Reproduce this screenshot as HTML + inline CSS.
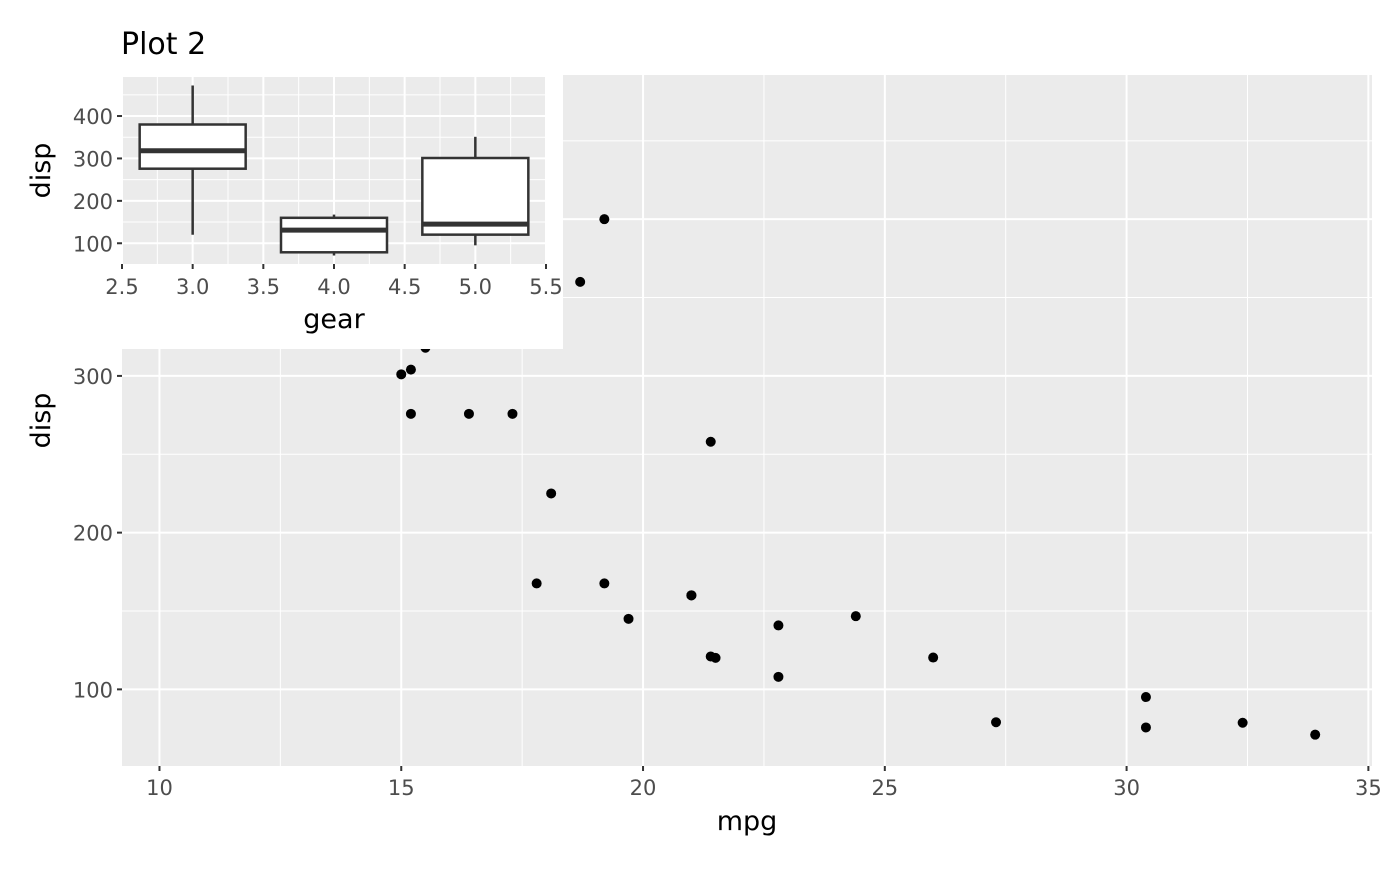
<!DOCTYPE html>
<html><head><meta charset="utf-8"><style>
html,body{margin:0;padding:0;background:#fff;}
svg text{font-family:"DejaVu Sans","Liberation Sans",sans-serif;}
</style></head><body>
<svg id="c" width="1400" height="865" viewBox="0 0 1400 865" xmlns="http://www.w3.org/2000/svg">
<text x="121" y="54" font-size="30" fill="#000">Plot 2</text>
<g id="main"></g>
<g id="inset"></g>
</svg>
<script>
const mpg=[21,21,22.8,21.4,18.7,18.1,14.3,24.4,22.8,19.2,17.8,16.4,17.3,15.2,10.4,10.4,14.7,32.4,30.4,33.9,21.5,15.5,15.2,13.3,19.2,27.3,26,30.4,15.8,19.7,15,21.4];
const disp=[160,160,108,258,360,225,360,146.7,140.8,167.6,167.6,275.8,275.8,275.8,472,460,440,78.7,75.7,71.1,120.1,318,304,350,400,79,120.3,95.1,351,145,301,121];
const xTicks=[10,15,20,25,30,35];
const yTicks=[100,200,300];
const gears=[3,4,5];
const bMin=[120.1,71.1,95.1];
const bQ1=[275.8,78.7,120.3];
const bMed=[318,130.9,145];
const bQ3=[380,160,301];
const bMax=[472,167.6,351];
const gxTicks=[2.5,3,3.5,4,4.5,5,5.5];
const gyTicks=[100,200,300,400];
const NS='http://www.w3.org/2000/svg';
function mk(p,t,a){const e=document.createElementNS(NS,t);for(const k in a)e.setAttribute(k,a[k]);p.appendChild(e);return e;}
const TF=21, AF=27;
// main
const M=document.getElementById('main');
const L=122,R=1372,T=75,B=766;
const x=v=>L+(v-9.225)/(35.075-9.225)*(R-L);
const y=v=>B-(v-51.1)/(492-51.1)*(B-T);
let bg=mk(M,'rect',{x:L,y:T,width:R-L,height:B-T,fill:'#ebebeb'});

for(let v=12.5;v<35;v+=5)mk(M,'line',{x1:x(v),x2:x(v),y1:T,y2:B,stroke:'#fff','stroke-width':1});
for(let v=150;v<492;v+=100)mk(M,'line',{x1:L,x2:R,y1:y(v),y2:y(v),stroke:'#fff','stroke-width':1});
xTicks.forEach(v=>{mk(M,'line',{x1:x(v),x2:x(v),y1:T,y2:B,stroke:'#fff','stroke-width':2});
 mk(M,'line',{x1:x(v),x2:x(v),y1:B,y2:B+5,stroke:'#333','stroke-width':2});
 const t=mk(M,'text',{x:x(v),y:B+29,'font-size':TF,fill:'#4d4d4d','text-anchor':'middle'});t.textContent=v;
 });
[100,200,300,400].forEach(v=>{mk(M,'line',{x1:L,x2:R,y1:y(v),y2:y(v),stroke:'#fff','stroke-width':2});
 mk(M,'line',{x1:L-5,x2:L,y1:y(v),y2:y(v),stroke:'#333','stroke-width':2});
 const t=mk(M,'text',{x:L-9,y:y(v)+8,'font-size':TF,fill:'#4d4d4d','text-anchor':'end'});t.textContent=v;
 });
mpg.forEach((m,i)=>{const c=mk(M,'circle',{cx:x(m),cy:y(disp[i]),r:5,fill:'#000'});
 });
let xt=mk(M,'text',{x:(L+R)/2,y:830,'font-size':AF,'text-anchor':'middle',fill:'#000'});xt.textContent='mpg';

let yt=mk(M,'text',{x:0,y:0,'font-size':AF,'text-anchor':'middle',fill:'#000',transform:`translate(50,${(T+B)/2}) rotate(-90)`});yt.textContent='disp';

// inset
const I=document.getElementById('inset');
mk(I,'rect',{x:0,y:68,width:563,height:281,fill:'#fff'});
const l=122,r=546,t=77,b=264;
const gx=v=>l+(v-2.5)/3*(r-l);
const gy=v=>b-(v-51.1)/(492-51.1)*(b-t);
let ib=mk(I,'rect',{x:l,y:t,width:r-l,height:b-t,fill:'#ebebeb'});

for(let v=2.75;v<5.5;v+=0.5)mk(I,'line',{x1:gx(v),x2:gx(v),y1:t,y2:b,stroke:'#fff','stroke-width':1});
for(let v=50;v<492;v+=100)if(v>51.1)mk(I,'line',{x1:l,x2:r,y1:gy(v),y2:gy(v),stroke:'#fff','stroke-width':1});
gxTicks.forEach(v=>{mk(I,'line',{x1:gx(v),x2:gx(v),y1:t,y2:b,stroke:'#fff','stroke-width':2});
 mk(I,'line',{x1:gx(v),x2:gx(v),y1:b,y2:b+5,stroke:'#333','stroke-width':2});
 const s=mk(I,'text',{x:gx(v),y:b+30,'font-size':TF,fill:'#4d4d4d','text-anchor':'middle'});s.textContent=v.toFixed(1);
 });
gyTicks.forEach(v=>{mk(I,'line',{x1:l,x2:r,y1:gy(v),y2:gy(v),stroke:'#fff','stroke-width':2});
 mk(I,'line',{x1:l-5,x2:l,y1:gy(v),y2:gy(v),stroke:'#333','stroke-width':2});
 const s=mk(I,'text',{x:l-9,y:gy(v)+8,'font-size':TF,fill:'#4d4d4d','text-anchor':'end'});s.textContent=v;
 });
gears.forEach((g,i)=>{const grp=mk(I,'g',{});
 
 const cx=gx(g),x0=gx(g-0.375),x1=gx(g+0.375);
 mk(grp,'line',{x1:cx,x2:cx,y1:gy(bMax[i]),y2:gy(bQ3[i]),stroke:'#333','stroke-width':2.5});
 mk(grp,'line',{x1:cx,x2:cx,y1:gy(bQ1[i]),y2:gy(bMin[i]),stroke:'#333','stroke-width':2.5});
 mk(grp,'rect',{x:x0,y:gy(bQ3[i]),width:x1-x0,height:gy(bQ1[i])-gy(bQ3[i]),fill:'#fff',stroke:'#333','stroke-width':2.5});
 mk(grp,'line',{x1:x0,x2:x1,y1:gy(bMed[i]),y2:gy(bMed[i]),stroke:'#333','stroke-width':5});});
let gt=mk(I,'text',{x:(l+r)/2,y:328,'font-size':AF,'text-anchor':'middle',fill:'#000'});gt.textContent='gear';

let dt=mk(I,'text',{x:0,y:0,'font-size':AF,'text-anchor':'middle',fill:'#000',transform:`translate(50,${(t+b)/2}) rotate(-90)`});dt.textContent='disp';

</script>
</body></html>
